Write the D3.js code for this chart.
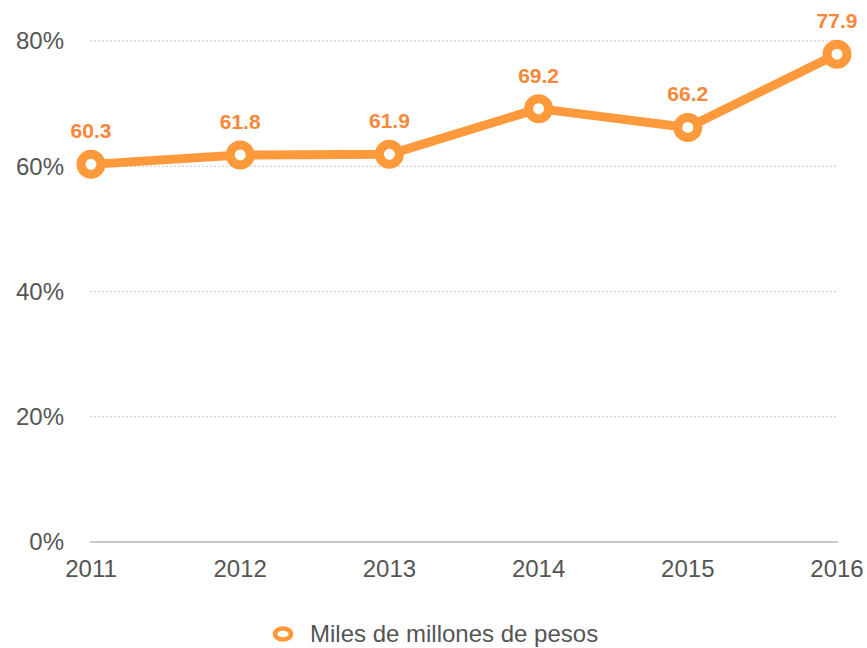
<!DOCTYPE html>
<html>
<head>
<meta charset="utf-8">
<script src="https://cdn.jsdelivr.net/npm/d3@7"></script>
<style>
  body { margin: 0; background: #fff; }
  text { font-family: "Liberation Sans", Helvetica, Arial, sans-serif; }
</style>
</head>
<body>
<div id="chart"></div>
<script>
var years = ["2011", "2012", "2013", "2014", "2015", "2016"];
var values = [60.3, 61.8, 61.9, 69.2, 66.2, 77.9];
var yTicks = [0, 20, 40, 60, 80];
var seriesName = "Miles de millones de pesos";

var width = 867,
    height = 648;

var orange = "#ff9a3c",
    labelOrange = "#f7883a",
    axisGray = "#555";

var svg = d3.select("#chart").append("svg")
    .attr("width", width)
    .attr("height", height);

var x = d3.scalePoint()
    .domain(years)
    .range([91, 837]);

var y = d3.scaleLinear()
    .domain([0, 80])
    .range([542, 41]);

// gridlines
svg.selectAll(".grid")
    .data(yTicks)
    .enter().append("line")
    .attr("x1", 90)
    .attr("x2", 838)
    .attr("y1", function(d) { return y(d); })
    .attr("y2", function(d) { return y(d); })
    .attr("stroke", "#c8c8c8")
    .attr("stroke-width", function(d) { return d === 0 ? 2 : 1; })
    .attr("stroke-dasharray", function(d) { return d === 0 ? null : "2,2"; });

// y labels
svg.selectAll(".ylab")
    .data(yTicks)
    .enter().append("text")
    .attr("x", 64)
    .attr("y", function(d) { return y(d); })
    .attr("dy", "0.35em")
    .attr("text-anchor", "end")
    .attr("fill", axisGray)
    .style("font-size", "24px")
    .text(function(d) { return d + "%"; });

// x labels
svg.selectAll(".xlab")
    .data(years)
    .enter().append("text")
    .attr("x", function(d) { return x(d); })
    .attr("y", 577)
    .attr("text-anchor", "middle")
    .attr("fill", axisGray)
    .style("font-size", "24px")
    .text(function(d) { return d; });

var line = d3.line()
    .x(function(d, i) { return x(years[i]); })
    .y(function(d) { return y(d); });

svg.append("path")
    .datum(values)
    .attr("d", line)
    .attr("fill", "none")
    .attr("stroke", orange)
    .attr("stroke-width", 9)
    .attr("stroke-linejoin", "round");

svg.selectAll(".dot")
    .data(values)
    .enter().append("circle")
    .attr("cx", function(d, i) { return x(years[i]); })
    .attr("cy", function(d) { return y(d); })
    .attr("r", 10)
    .attr("fill", "#fff")
    .attr("stroke", orange)
    .attr("stroke-width", 9);

svg.selectAll(".vlab")
    .data(values)
    .enter().append("text")
    .attr("x", function(d, i) { return x(years[i]); })
    .attr("y", function(d) { return y(d) - 26; })
    .attr("text-anchor", "middle")
    .attr("fill", labelOrange)
    .style("font-size", "21px")
    .style("font-weight", "bold")
    .text(function(d) { return d.toFixed(1); });

// legend
var legend = svg.append("g")
    .attr("transform", "translate(283,634)");

legend.append("ellipse")
    .attr("rx", 8)
    .attr("ry", 5.5)
    .attr("fill", "#fff")
    .attr("stroke", orange)
    .attr("stroke-width", 4.5);

legend.append("text")
    .attr("x", 27)
    .attr("dy", "0.35em")
    .attr("fill", axisGray)
    .style("font-size", "24px")
    .text(seriesName);
</script>
</body>
</html>
